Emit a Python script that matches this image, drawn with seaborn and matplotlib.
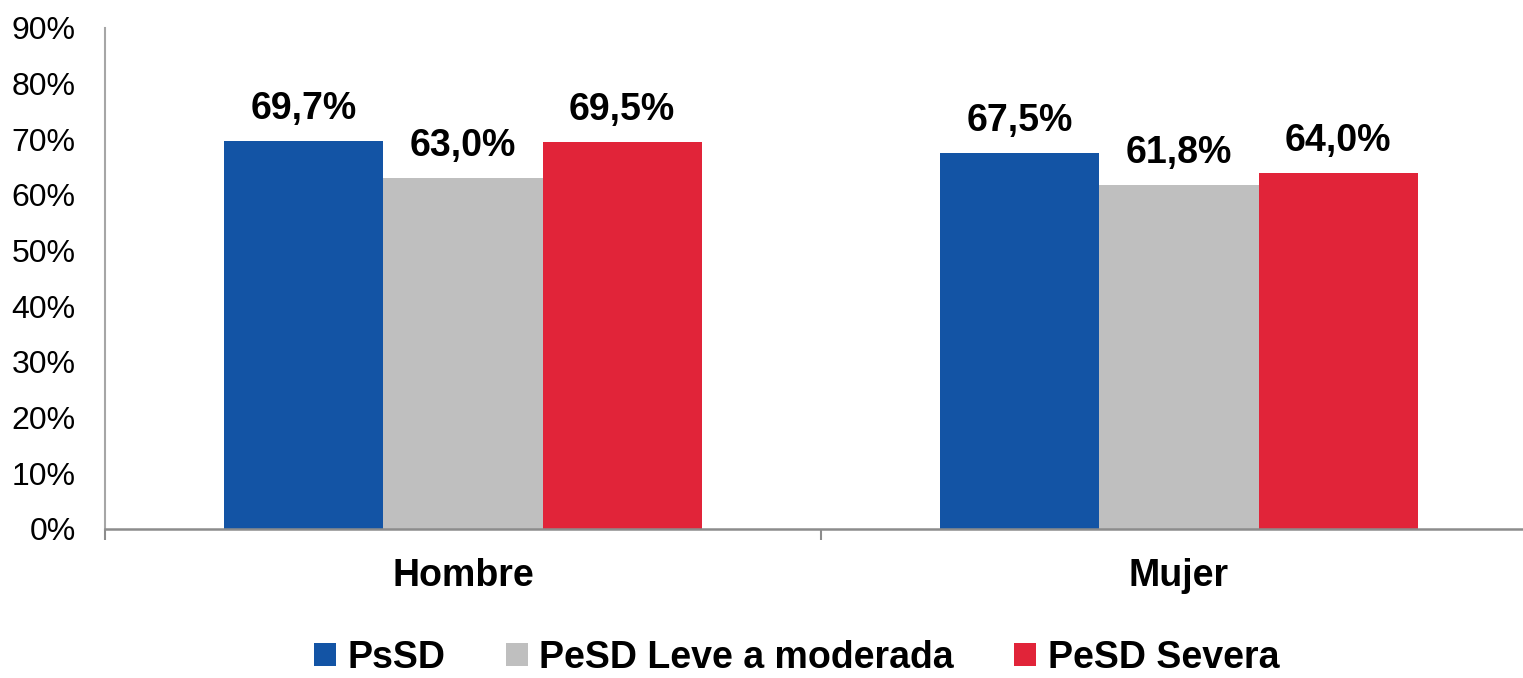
import matplotlib
matplotlib.use("Agg")
import matplotlib.pyplot as plt
import seaborn as sns
import pandas as pd
from matplotlib.ticker import FuncFormatter, FixedLocator

# data
sexo = ["Hombre", "Mujer"]
series = ["PsSD", "PeSD Leve a moderada", "PeSD Severa"]
psd = [69.7, 67.5]
pesd_leve = [63.0, 61.8]
pesd_severa = [69.5, 64.0]
colores = ["#1354A5", "#BFBFBF", "#E12439"]

df = pd.DataFrame({
    "sexo": sexo * 3,
    "serie": [series[0]] * 2 + [series[1]] * 2 + [series[2]] * 2,
    "valor": psd + pesd_leve + pesd_severa,
})

sns.set_style("white")
plt.rcParams['font.family'] = ['Liberation Sans', 'DejaVu Sans']
plt.rcParams['text.color'] = 'black'
plt.rcParams['xtick.color'] = 'black'
plt.rcParams['ytick.color'] = 'black'

fig = plt.figure(figsize=(15.23, 6.78), dpi=100)
ax = fig.add_axes([105 / 1523, 1 - 529 / 678, 1432 / 1523, 501 / 678])

sns.barplot(data=df, x="sexo", y="valor", hue="serie", hue_order=series,
            palette=colores, width=0.667, saturation=1, linewidth=0, ax=ax, legend=True)

ax.set_xlim(-0.5, 1.5)
ax.set_ylim(0, 90)
ax.set_yticks(range(0, 91, 10))
ax.yaxis.set_major_formatter(FuncFormatter(lambda v, p: f"{v:.0f}%"))
ax.tick_params(axis='y', length=0, pad=21, labelsize=23, labelcolor='black')
ax.tick_params(axis='x', which='major', length=0, pad=21, labelsize=27, labelcolor='black')
for t in ax.get_xticklabels():
    t.set_fontweight('bold')
ax.xaxis.set_minor_locator(FixedLocator([-0.5, 0.5, 1.5]))
ax.tick_params(axis='x', which='minor', bottom=True, length=8, width=1.5,
               color='#8C8C8C', direction='out')
ax.set_xlabel('')
ax.set_ylabel('')

for s in ['top', 'right']:
    ax.spines[s].set_visible(False)
ax.spines['left'].set_color('#A6A6A6')
ax.spines['left'].set_linewidth(1.5)
ax.spines['bottom'].set_color('#8C8C8C')
ax.spines['bottom'].set_linewidth(1.8)

for cont in ax.containers:
    labels = [f"{b.get_height():.1f}%".replace('.', ',') for b in cont]
    ax.bar_label(cont, labels=labels, padding=10, fontsize=27, fontweight='bold',
                 color='black')

handles, labs = ax.get_legend_handles_labels()
ax.legend_.remove()
fig.legend(handles, labs, loc='center', bbox_to_anchor=(0.523, 0.03), ncol=3,
           frameon=False, handlelength=0.6, handleheight=0.6, handletextpad=0.3,
           columnspacing=1.6, borderpad=0, labelcolor='black',
           prop={'size': 27, 'weight': 'bold'})

fig.savefig("out.png", dpi=100)
